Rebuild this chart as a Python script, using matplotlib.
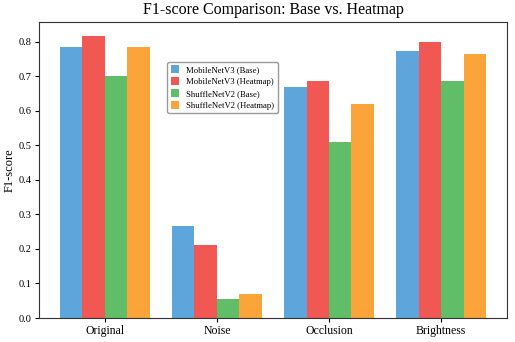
import matplotlib
matplotlib.use("Agg")
import matplotlib.pyplot as plt
import numpy as np

plt.rcParams["font.family"] = ["Liberation Serif", "DejaVu Serif"]

# --- data ---
conditions = ["Original", "Noise", "Occlusion", "Brightness"]
mobilenet_base = [0.785, 0.265, 0.669, 0.772]
mobilenet_heatmap = [0.815, 0.211, 0.685, 0.799]
shufflenet_base = [0.700, 0.055, 0.508, 0.685]
shufflenet_heatmap = [0.785, 0.069, 0.620, 0.765]

series = [
    ("MobileNetV3 (Base)", mobilenet_base, "#5DA5DA"),
    ("MobileNetV3 (Heatmap)", mobilenet_heatmap, "#F15854"),
    ("ShuffleNetV2 (Base)", shufflenet_base, "#60BD68"),
    ("ShuffleNetV2 (Heatmap)", shufflenet_heatmap, "#FAA43A"),
]

x = np.arange(len(conditions))
width = 0.2

fig, ax = plt.subplots(figsize=(5.15, 3.42), dpi=100)
for i, (label, vals, color) in enumerate(series):
    ax.bar(x + (i - 1.5) * width, vals, width, label=label, color=color)

ax.set_xticks(x)
ax.set_xticklabels(conditions, fontsize=8.5)
ax.tick_params(axis="y", labelsize=7.5, pad=2, length=3)
ax.tick_params(axis="x", pad=2, length=3)
ax.set_ylabel("F1-score", fontsize=9, labelpad=2)
ax.set_title("F1-score Comparison: Base vs. Heatmap", fontsize=11.5)
for s in ax.spines.values():
    s.set_color("#333333")

ax.legend(loc="upper left", bbox_to_anchor=(0.265, 0.88), fontsize=6.2,
          handlelength=1.0, handleheight=1.0, labelspacing=0.35,
          fancybox=True, framealpha=1, edgecolor="#999999")

plt.subplots_adjust(left=0.075, right=0.985, bottom=0.07, top=0.935)
plt.savefig("out.png", dpi=100)
